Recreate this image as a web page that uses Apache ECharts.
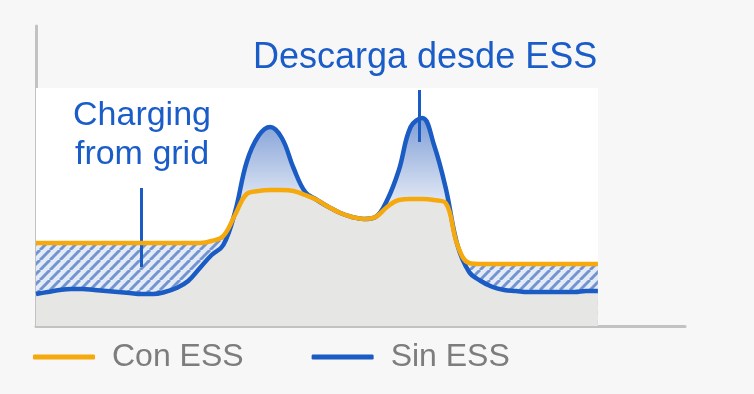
<!DOCTYPE html>
<html>
<head>
<meta charset="utf-8">
<script src="https://cdn.jsdelivr.net/npm/echarts@6/dist/echarts.min.js"></script>
<style>
  html, body { margin: 0; padding: 0; background: #f7f7f7; }
  #chart { width: 754px; height: 394px; }
</style>
</head>
<body>
<div id="chart"></div>
<script>
// Hours of the day (x) and power profiles (arbitrary units)
var hours = [];
for (var i = 0; i <= 48; i++) hours.push(i / 2);

var conESS = [83, 83, 83, 83, 83, 83, 83, 83, 83, 83, 83, 83, 83, 83, 83,
  85, 90, 111, 132, 135, 136, 136, 135, 131, 126, 119, 113, 109, 107, 109,
  119, 126, 127, 127, 126, 123, 81, 63,
  62, 62, 62, 62, 62, 62, 62, 62, 62, 62, 62];

var sinESS = [32, 34, 36, 37, 37, 36, 35, 34, 33, 32, 32, 34, 38, 45, 58,
  71, 81, 114, 164, 190, 199, 188, 158, 134, 126, 119, 113, 109, 107, 109,
  126, 156, 199, 208, 181, 138, 81, 54,
  45, 39, 36, 35, 34, 34, 34, 34, 34, 35, 35];

var seriesNames = ['Con ESS', 'Sin ESS'];
var annotChargeText = 'Charging\nfrom grid';
var annotDischargeText = 'Descarga desde ESS';
var annotChargeLine = [[4.5, 138], [4.5, 59]];
var annotDischargeLine = [[16.38, 236], [16.38, 184]];
var plotPanel = [[0, 0], [24, 238]];

var ORANGE = '#f6a90c';
var BLUE = '#1a5bc4';
var TEXTBLUE = '#1a5cc8';

function pairs(vals) { return hours.map(function (h, i) { return [h, vals[i]]; }); }
var baseVals = conESS.map(function (v, i) { return Math.min(v, sinESS[i]); });

// hatch pattern
var P = 10;
var pc = document.createElement('canvas');
pc.width = P; pc.height = P;
var ctx = pc.getContext('2d');
ctx.fillStyle = '#e3ebf7';
ctx.fillRect(0, 0, P, P);
ctx.strokeStyle = '#7394cf';
ctx.lineWidth = 3;
[-P, 0, P].forEach(function (x0) {
  ctx.beginPath(); ctx.moveTo(x0, P); ctx.lineTo(x0 + P, 0); ctx.stroke();
});

var chart = echarts.init(document.getElementById('chart'), null, { renderer: 'canvas' });
var axisLine = { show: true, lineStyle: { color: '#c2c2c2', width: 3 } };
chart.setOption({
  backgroundColor: '#f7f7f7',
  animation: false,
  grid: { left: 36, right: 69, top: 26, bottom: 68 },
  xAxis: { type: 'value', min: 0, max: 27.72, axisLine: axisLine, axisTick: { show: false },
    axisLabel: { show: false }, splitLine: { show: false } },
  yAxis: { type: 'value', min: 0, max: 300, axisLine: axisLine, axisTick: { show: false },
    axisLabel: { show: false }, splitLine: { show: false } },
  legend: {
    data: seriesNames, left: 33, top: 341, padding: 0, icon: 'roundRect', itemWidth: 62, itemHeight: 5,
    itemGap: 68,
    textStyle: { color: '#7d7d7d', fontSize: 32, fontFamily: 'Liberation Sans',
      padding: [0, 0, 0, 12] }
  },
  graphic: [
    { type: 'text', x: 253, y: 40, z: 100, silent: true,
      style: { text: annotDischargeText, font: '36px "Liberation Sans"', fill: TEXTBLUE,
        textAlign: 'left', textVerticalAlign: 'top' } },
    { type: 'text', x: 142, y: 96, z: 100, silent: true,
      style: { text: annotChargeText, font: '34px "Liberation Sans"', fill: TEXTBLUE,
        lineHeight: 39, textAlign: 'center', textVerticalAlign: 'top' } }
  ],
  series: [
    { type: 'line', name: 'panel', data: [], z: 0,
      markArea: { silent: true, itemStyle: { color: '#ffffff' },
        data: [[{ coord: plotPanel[0] }, { coord: plotPanel[1] }]] } },
    { type: 'line', name: 'sinArea', data: pairs(sinESS), smooth: 0.4, showSymbol: false, z: 1,
      lineStyle: { width: 0, opacity: 0 },
      areaStyle: { opacity: 1, color: new echarts.graphic.LinearGradient(0, 0, 0, 1, [
        { offset: 0, color: '#7f9ed6' }, { offset: 0.4, color: '#e0e7f4' }, { offset: 1, color: '#e8ecf5' }]) } },
    { type: 'line', name: 'conArea', data: pairs(conESS), smooth: 0.4, showSymbol: false, z: 2,
      lineStyle: { width: 0, opacity: 0 },
      areaStyle: { opacity: 1, color: { image: pc, repeat: 'repeat' } } },
    { type: 'line', name: 'base', data: pairs(baseVals), smooth: 0.4, showSymbol: false, z: 3,
      lineStyle: { width: 0, opacity: 0 },
      areaStyle: { opacity: 1, color: '#e6e6e4' } },
    { type: 'line', name: 'Sin ESS', data: pairs(sinESS), smooth: 0.4, showSymbol: false, z: 4,
      itemStyle: { color: BLUE }, lineStyle: { color: BLUE, width: 4.5 },
      markLine: { silent: true, symbol: 'none', label: { show: false },
        lineStyle: { color: BLUE, width: 3, type: 'solid' },
        data: [
          [{ coord: annotChargeLine[0] }, { coord: annotChargeLine[1] }],
          [{ coord: annotDischargeLine[0] }, { coord: annotDischargeLine[1] }]
        ] } },
    { type: 'line', name: 'Con ESS', data: pairs(conESS), smooth: 0.4, showSymbol: false, z: 5,
      itemStyle: { color: ORANGE }, lineStyle: { color: ORANGE, width: 4.5 } }
  ]
});
</script>
</body>
</html>
